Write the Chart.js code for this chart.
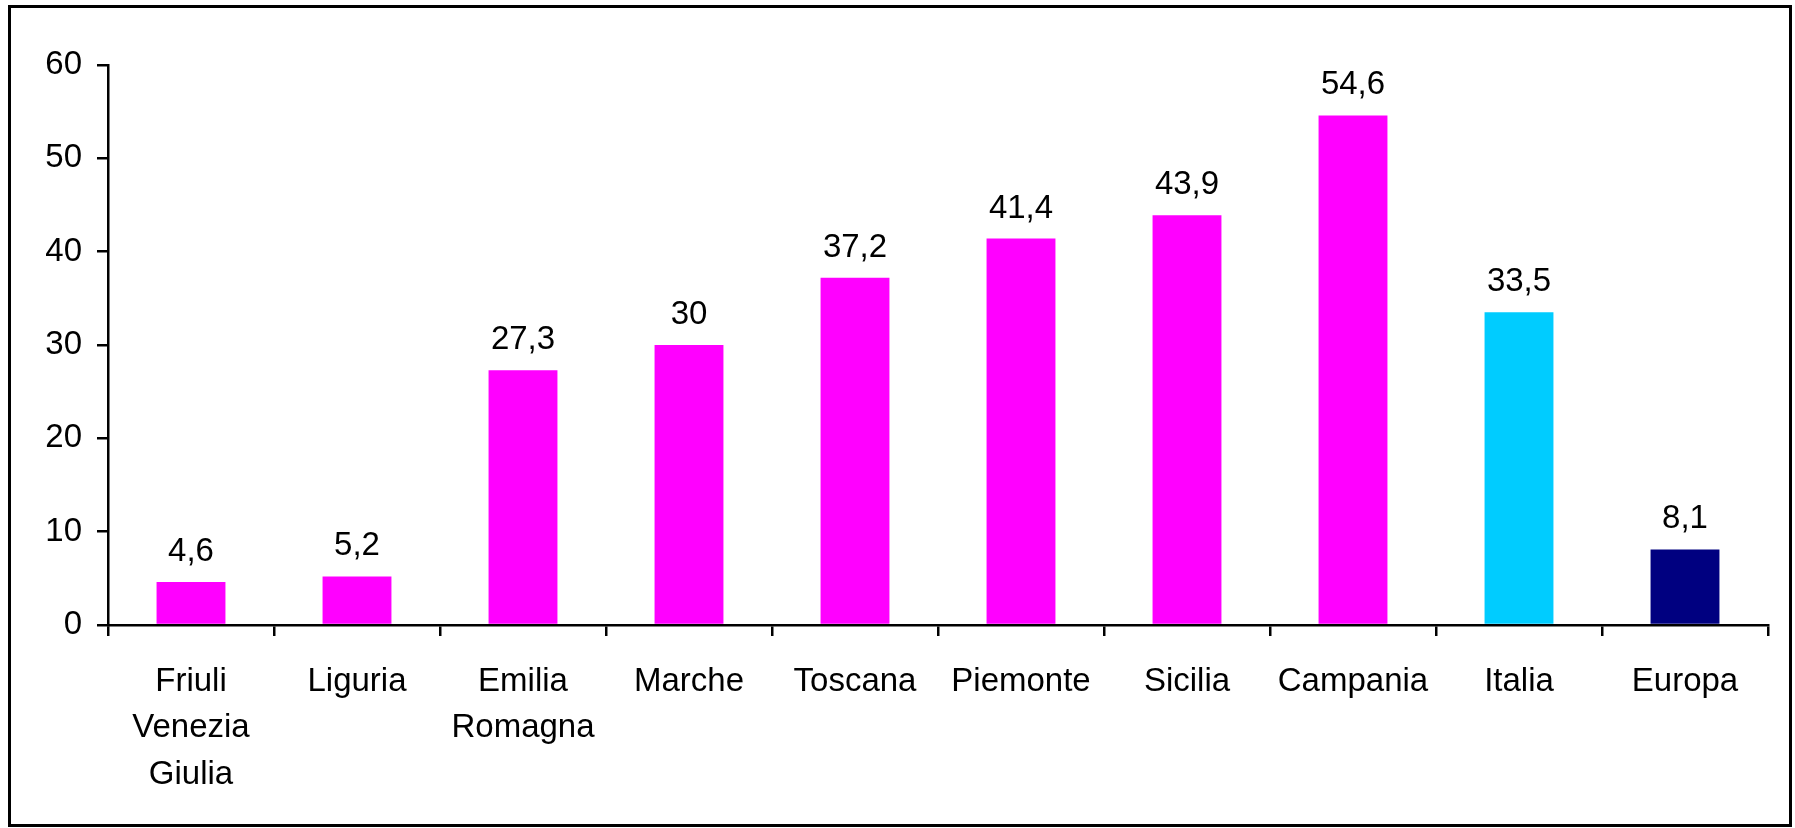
<!DOCTYPE html>
<html>
<head>
<meta charset="utf-8">
<script src="https://cdn.jsdelivr.net/npm/chart.js@4"></script>
<style>
  html, body { margin: 0; padding: 0; background: #fff; }
  #wrap { position: relative; width: 1795px; height: 828px; }
</style>
</head>
<body>
<div id="wrap"><canvas id="chart"></canvas></div>
<script>
// dati
const regioni = [['Friuli', 'Venezia', 'Giulia'], 'Liguria', ['Emilia', 'Romagna'], 'Marche', 'Toscana',
  'Piemonte', 'Sicilia', 'Campania', 'Italia', 'Europa'];
const valori = [4.6, 5.2, 27.3, 30, 37.2, 41.4, 43.9, 54.6, 33.5, 8.1];
const colori = ['#FF00FF', '#FF00FF', '#FF00FF', '#FF00FF', '#FF00FF',
  '#FF00FF', '#FF00FF', '#FF00FF', '#00CCFF', '#000080'];
const yTicks = [0, 10, 20, 30, 40, 50, 60];

const FONT = 'Liberation Sans, Arial, sans-serif';

// cornice esterna
const framePlugin = {
  id: 'frame',
  afterDraw(chart) {
    const ctx = chart.ctx;
    ctx.save();
    ctx.strokeStyle = '#000';
    ctx.lineWidth = 3;
    ctx.strokeRect(9.5, 6.5, 1781, 819);
    ctx.restore();
  }
};

// etichette sopra le barre
const valueLabels = {
  id: 'valueLabels',
  afterDatasetsDraw(chart) {
    const ctx = chart.ctx;
    const meta = chart.getDatasetMeta(0);
    ctx.save();
    ctx.font = '33px ' + FONT;
    ctx.fillStyle = '#000';
    ctx.textAlign = 'center';
    ctx.textBaseline = 'alphabetic';
    meta.data.forEach((bar, i) => {
      const txt = String(valori[i]).replace('.', ',');
      ctx.fillText(txt, bar.x, bar.y - 21);
    });
    ctx.restore();
  }
};

new Chart(document.getElementById('chart'), {
  type: 'bar',
  data: {
    labels: regioni,
    datasets: [{
      data: valori,
      backgroundColor: colori,
      borderWidth: 0,
      categoryPercentage: 0.83,
      barPercentage: 0.5
    }]
  },
  options: {
    responsive: true,
    maintainAspectRatio: false,
    animation: false,
    layout: { padding: { left: 0, top: 65, right: 27, bottom: 0 } },
    plugins: {
      legend: { display: false },
      tooltip: { enabled: false }
    },
    scales: {
      x: {
        grid: {
          display: true,
          offset: true,
          drawOnChartArea: false,
          drawTicks: true,
          tickLength: 11,
          color: '#000',
          lineWidth: 2.5
        },
        border: { display: true, color: '#000', width: 2.5 },
        ticks: {
          color: '#000',
          font: { family: FONT, size: 33, lineHeight: 1.42 },
          padding: 22,
          maxRotation: 0,
          autoSkip: false
        },
        afterFit(scale) { scale.height = 203; }
      },
      y: {
        min: 0,
        max: 60,
        afterBuildTicks(scale) { scale.ticks = yTicks.map(v => ({ value: v })); },
        grid: {
          display: true,
          drawOnChartArea: false,
          drawTicks: true,
          tickLength: 11,
          color: '#000',
          lineWidth: 2.5
        },
        border: { display: true, color: '#000', width: 2.5 },
        ticks: {
          color: '#000',
          font: { family: FONT, size: 33 },
          padding: 15
        },
        afterFit(scale) { scale.width = 108; }
      }
    }
  },
  plugins: [framePlugin, valueLabels]
});
</script>
</body>
</html>
